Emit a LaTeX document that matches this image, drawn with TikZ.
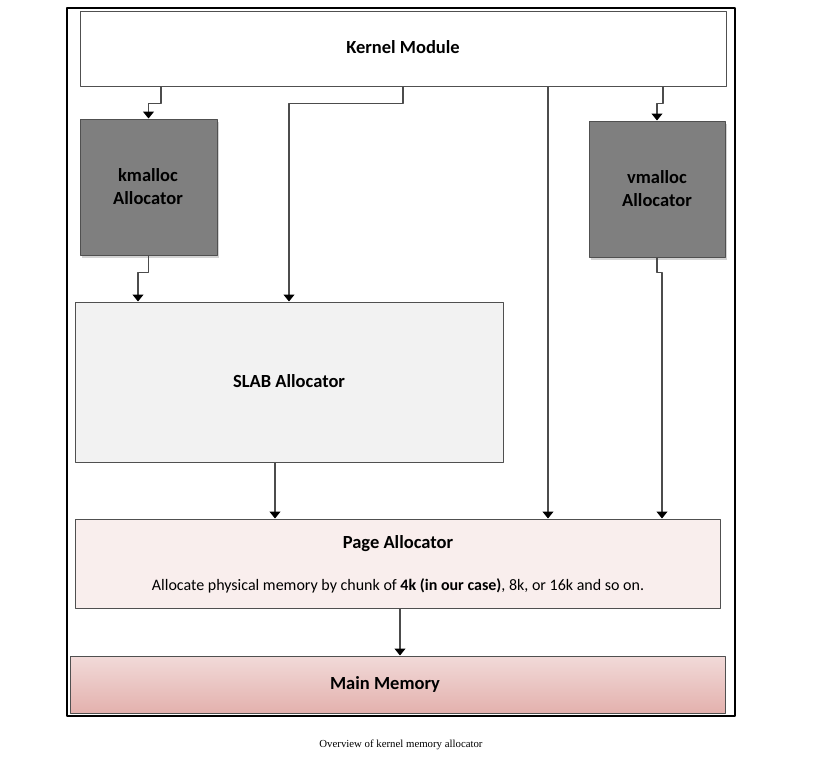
\documentclass[tikz,border=0pt]{standalone}
\usepackage{fontspec}
\setmainfont{Carlito}
\newfontfamily\capfont{Liberation Serif}
\usetikzlibrary{arrows.meta,fit,shadows}
\definecolor{boxline}{HTML}{505050}
\definecolor{darkbox}{HTML}{7F7F7F}
\definecolor{slabfill}{HTML}{F2F2F2}
\definecolor{pagefill}{HTML}{F9EEED}
\definecolor{memtop}{HTML}{F8EEEE}
\definecolor{membot}{HTML}{E2ADA9}
\pgfdeclareverticalshading{memshade}{100bp}{color(0bp)=(membot!75!white); color(20bp)=(membot); color(100bp)=(memtop)}
\begin{document}
\begin{tikzpicture}[x=1pt,y=-1pt,>={Triangle[width=11pt,length=7pt,color=black]}, line join=round,
  box/.style={draw=boxline, line width=1pt, inner sep=0pt},
  alloc/.style={box, fill=darkbox,
    drop shadow={opacity=0.35, shadow xshift=2pt, shadow yshift=-3pt}},
  arr/.style={->, draw=black!70, line width=1.1pt},
  title/.style={font=\fontsize{18.5}{23}\selectfont\bfseries, align=center}]
\useasboundingbox (0,0) rectangle (832,764);
\draw[line width=1.5pt] (67,8) rectangle (735,716); % frame

% boxes
\node[box, fill=white, fit={(80,11) (726,86)}] (kernel) {};
\node[alloc, fit={(80,119) (217,255)}] (kmalloc) {};
\node[alloc, fit={(589,121) (725,257)}] (vmalloc) {};
\node[box, fill=slabfill, fit={(75,302) (503,462)}] (slab) {};
\node[box, fill=pagefill, fit={(75,519) (720,608)}] (page) {};
\node[box, shade, shading=memshade, fit={(70,656) (725,713)}] (mem) {};

% texts
\node[title] (kerneltext) at (403,47) {Kernel Module};
\node[title] (kmalloctext) at (148,187) {kmalloc\\Allocator};
\node[title] (vmalloctext) at (657,189) {vmalloc\\Allocator};
\node[title] (slabtext) at (289,381) {SLAB Allocator};
\node[title] (pagetitle) at (398,544) {Page Allocator};
\node[font=\fontsize{16}{19}\selectfont] (pagetext) at (398,586)
  {Allocate physical memory by chunk of \textbf{4k (in our case)}, 8k, or 16k and so on.};
\node[title] (memtext) at (385,684) {Main Memory};

% connectors
\draw[arr] (kernel.south -| 161,0) -- ++(0,17) -| (kmalloc.north);
\draw[arr] (kernel.south) -- ++(0,17) -| (slab.north);
\draw[arr] (kernel.south -| 548,0) -- (page.north -| 548,0);
\draw[arr] (kernel.south -| 663,0) -- ++(0,17) -| (vmalloc.north);
\draw[arr] (kmalloc.south) -- ++(0,17) -| (slab.north -| 138,0);
\draw[arr] (vmalloc.south) -- ++(0,15) -| (page.north -| 662,0);
\draw[arr] (slab.south -| 275,0) -- (page.north -| 275,0);
\draw[arr] (page.south -| 400,0) -- (mem.north -| 400,0);

\node[font=\capfont\fontsize{10.8}{13}\selectfont] (caption) at (401,745) {Overview of kernel memory allocator};
\end{tikzpicture}
\end{document}
